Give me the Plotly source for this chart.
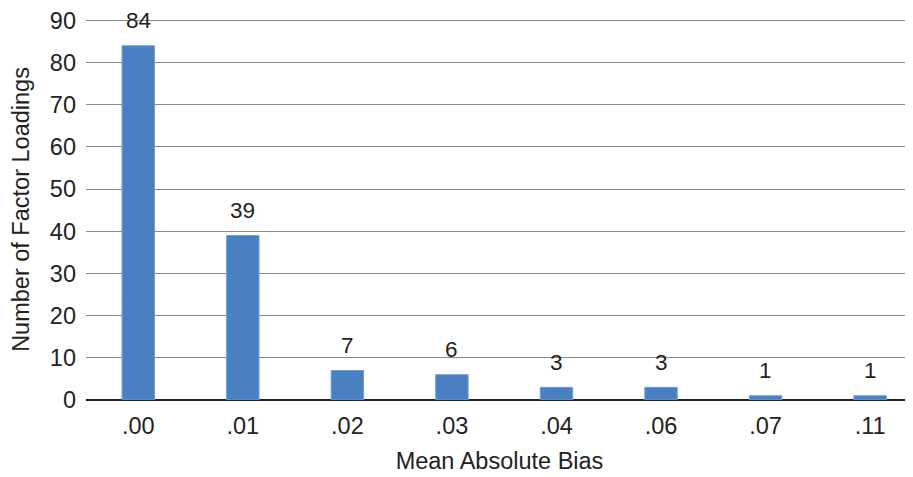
import plotly.graph_objects as go

categories = [".00", ".01", ".02", ".03", ".04", ".06", ".07", ".11"]
counts = [84, 39, 7, 6, 3, 3, 1, 1]

fig = go.Figure()
fig.add_trace(go.Bar(
    x=categories, y=counts,
    marker=dict(color="#4a80c1", line=dict(color="#6f9bd0", width=1)),
    width=0.31,
))
for i, v in enumerate(counts):
    fig.add_annotation(x=i, y=v, text=str(v), showarrow=False,
                       yshift=25, font=dict(size=22.5, color="#222"))

# page body has an 8px margin; figure sized so it fits the 913x477 window
fig.update_layout(
    width=905, height=469,
    margin=dict(l=78, r=0, t=11, b=77),
    plot_bgcolor="white", paper_bgcolor="white",
    font=dict(family="Liberation Sans, Arial, sans-serif", color="#222"),
    showlegend=False,
)
fig.update_xaxes(
    type="category", range=[-0.5, 7.41], automargin=False,
    title=dict(text="Mean Absolute Bias", font=dict(size=23.5), standoff=15),
    tickfont=dict(size=23.5), showgrid=False, ticks="", zeroline=False,
    showline=False, ticklabelstandoff=9,
)
fig.update_yaxes(
    range=[0, 90.35], dtick=10, automargin=False, ticklabeloverflow="allow",
    title=dict(text="Number of Factor Loadings", font=dict(size=23.5), standoff=14),
    tickfont=dict(size=23.5), gridcolor="#8a8a8a", gridwidth=1.3,
    zeroline=True, zerolinecolor="#222", zerolinewidth=1.5,
    ticks="", ticklabelstandoff=9,
)
fig.write_html("out.html")
